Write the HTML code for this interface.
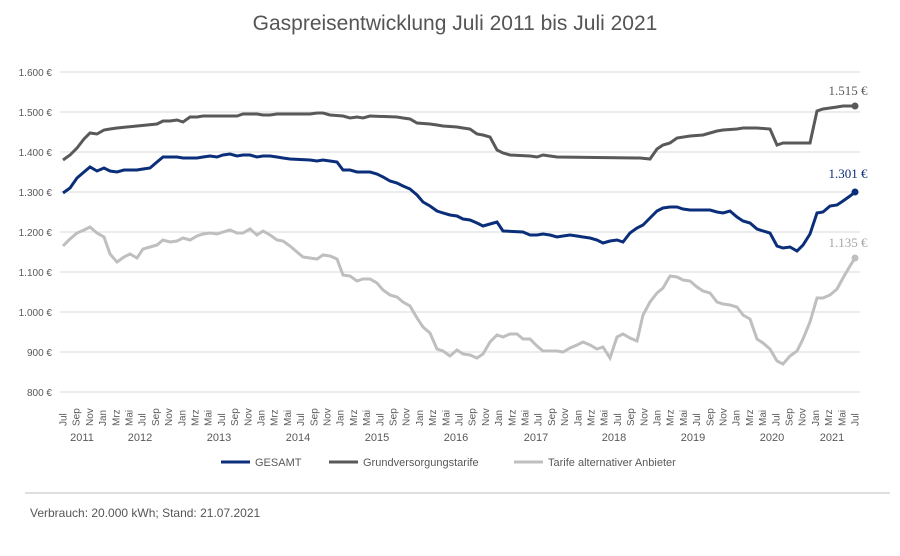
<!DOCTYPE html>
<html><head><meta charset="utf-8"><style>
body{margin:0;background:#fff;font-family:"Liberation Sans",sans-serif}
</style></head><body>
<svg width="900" height="551" xmlns="http://www.w3.org/2000/svg" font-family="Liberation Sans, sans-serif">
<text x="455" y="30" font-size="21" fill="#555" text-anchor="middle">Gaspreisentwicklung Juli 2011 bis Juli 2021</text>
<g stroke="#d9d9d9" stroke-width="1">
<line x1="60" x2="860" y1="72" y2="72"/><line x1="60" x2="860" y1="112" y2="112"/><line x1="60" x2="860" y1="152" y2="152"/><line x1="60" x2="860" y1="192" y2="192"/><line x1="60" x2="860" y1="232" y2="232"/><line x1="60" x2="860" y1="272" y2="272"/><line x1="60" x2="860" y1="312" y2="312"/><line x1="60" x2="860" y1="352" y2="352"/><line x1="60" x2="860" y1="392" y2="392"/>
</g>
<g font-size="10" fill="#595959" text-anchor="end">
<text x="52" y="76">1.600 €</text><text x="52" y="116">1.500 €</text><text x="52" y="156">1.400 €</text><text x="52" y="196">1.300 €</text><text x="52" y="236">1.200 €</text><text x="52" y="276">1.100 €</text><text x="52" y="316">1.000 €</text><text x="52" y="356">900 €</text><text x="52" y="396">800 €</text>
</g>
<g font-size="10" fill="#595959">
<text x="66.5" y="426" transform="rotate(-90,66.5,426)">Jul</text>
<text x="79.7" y="426" transform="rotate(-90,79.7,426)">Sep</text>
<text x="92.9" y="426" transform="rotate(-90,92.9,426)">Nov</text>
<text x="106.1" y="426" transform="rotate(-90,106.1,426)">Jan</text>
<text x="119.3" y="426" transform="rotate(-90,119.3,426)">Mrz</text>
<text x="132.5" y="426" transform="rotate(-90,132.5,426)">Mai</text>
<text x="145.7" y="426" transform="rotate(-90,145.7,426)">Jul</text>
<text x="158.9" y="426" transform="rotate(-90,158.9,426)">Sep</text>
<text x="172.1" y="426" transform="rotate(-90,172.1,426)">Nov</text>
<text x="185.3" y="426" transform="rotate(-90,185.3,426)">Jan</text>
<text x="198.5" y="426" transform="rotate(-90,198.5,426)">Mrz</text>
<text x="211.7" y="426" transform="rotate(-90,211.7,426)">Mai</text>
<text x="224.9" y="426" transform="rotate(-90,224.9,426)">Jul</text>
<text x="238.1" y="426" transform="rotate(-90,238.1,426)">Sep</text>
<text x="251.3" y="426" transform="rotate(-90,251.3,426)">Nov</text>
<text x="264.5" y="426" transform="rotate(-90,264.5,426)">Jan</text>
<text x="277.7" y="426" transform="rotate(-90,277.7,426)">Mrz</text>
<text x="290.9" y="426" transform="rotate(-90,290.9,426)">Mai</text>
<text x="304.1" y="426" transform="rotate(-90,304.1,426)">Jul</text>
<text x="317.3" y="426" transform="rotate(-90,317.3,426)">Sep</text>
<text x="330.5" y="426" transform="rotate(-90,330.5,426)">Nov</text>
<text x="343.7" y="426" transform="rotate(-90,343.7,426)">Jan</text>
<text x="356.9" y="426" transform="rotate(-90,356.9,426)">Mrz</text>
<text x="370.1" y="426" transform="rotate(-90,370.1,426)">Mai</text>
<text x="383.3" y="426" transform="rotate(-90,383.3,426)">Jul</text>
<text x="396.5" y="426" transform="rotate(-90,396.5,426)">Sep</text>
<text x="409.7" y="426" transform="rotate(-90,409.7,426)">Nov</text>
<text x="422.9" y="426" transform="rotate(-90,422.9,426)">Jan</text>
<text x="436.1" y="426" transform="rotate(-90,436.1,426)">Mrz</text>
<text x="449.3" y="426" transform="rotate(-90,449.3,426)">Mai</text>
<text x="462.5" y="426" transform="rotate(-90,462.5,426)">Jul</text>
<text x="475.7" y="426" transform="rotate(-90,475.7,426)">Sep</text>
<text x="488.9" y="426" transform="rotate(-90,488.9,426)">Nov</text>
<text x="502.1" y="426" transform="rotate(-90,502.1,426)">Jan</text>
<text x="515.3" y="426" transform="rotate(-90,515.3,426)">Mrz</text>
<text x="528.5" y="426" transform="rotate(-90,528.5,426)">Mai</text>
<text x="541.7" y="426" transform="rotate(-90,541.7,426)">Jul</text>
<text x="554.9" y="426" transform="rotate(-90,554.9,426)">Sep</text>
<text x="568.1" y="426" transform="rotate(-90,568.1,426)">Nov</text>
<text x="581.3" y="426" transform="rotate(-90,581.3,426)">Jan</text>
<text x="594.5" y="426" transform="rotate(-90,594.5,426)">Mrz</text>
<text x="607.7" y="426" transform="rotate(-90,607.7,426)">Mai</text>
<text x="620.9" y="426" transform="rotate(-90,620.9,426)">Jul</text>
<text x="634.1" y="426" transform="rotate(-90,634.1,426)">Sep</text>
<text x="647.3" y="426" transform="rotate(-90,647.3,426)">Nov</text>
<text x="660.5" y="426" transform="rotate(-90,660.5,426)">Jan</text>
<text x="673.7" y="426" transform="rotate(-90,673.7,426)">Mrz</text>
<text x="686.9" y="426" transform="rotate(-90,686.9,426)">Mai</text>
<text x="700.1" y="426" transform="rotate(-90,700.1,426)">Jul</text>
<text x="713.3" y="426" transform="rotate(-90,713.3,426)">Sep</text>
<text x="726.5" y="426" transform="rotate(-90,726.5,426)">Nov</text>
<text x="739.7" y="426" transform="rotate(-90,739.7,426)">Jan</text>
<text x="752.9" y="426" transform="rotate(-90,752.9,426)">Mrz</text>
<text x="766.1" y="426" transform="rotate(-90,766.1,426)">Mai</text>
<text x="779.3" y="426" transform="rotate(-90,779.3,426)">Jul</text>
<text x="792.5" y="426" transform="rotate(-90,792.5,426)">Sep</text>
<text x="805.7" y="426" transform="rotate(-90,805.7,426)">Nov</text>
<text x="818.9" y="426" transform="rotate(-90,818.9,426)">Jan</text>
<text x="832.1" y="426" transform="rotate(-90,832.1,426)">Mrz</text>
<text x="845.3" y="426" transform="rotate(-90,845.3,426)">Mai</text>
<text x="858.5" y="426" transform="rotate(-90,858.5,426)">Jul</text>
</g>
<g font-size="11" fill="#595959" text-anchor="middle">
<text x="82" y="441">2011</text><text x="140" y="441">2012</text><text x="219" y="441">2013</text><text x="298" y="441">2014</text><text x="377" y="441">2015</text><text x="456" y="441">2016</text><text x="536" y="441">2017</text><text x="614" y="441">2018</text><text x="693" y="441">2019</text><text x="772" y="441">2020</text><text x="832" y="441">2021</text>
</g>
<polyline fill="none" stroke="#bfbfbf" stroke-width="3" points="63,246 70,239 77,233 84,230 90,227 97,233 104,237 110,254 117,262 124,257 130,254 137,258 143,249 150,247 157,245 163,240 170,242 177,241 183,238 190,240 197,236 203,234 210,233 217,234 223,232 230,230 237,233 243,233 250,229 257,235 263,231 270,235 277,240 283,241 290,246 297,252 303,257 310,258 317,259 323,255 330,256 337,259 343,275 350,276 357,281 363,279 370,279 377,283 383,290 390,295 397,297 403,302 410,306 417,318 423,327 430,333 437,349 443,351 450,356 457,350 463,354 470,355 477,358 483,354 490,342 497,335 503,337 510,334 517,334 523,339 530,339 537,346 543,351 550,351 557,351 563,352 570,348 577,345 583,342 590,345 597,349 603,347 610,358 617,337 623,334 630,338 637,341 643,315 650,302 657,293 663,288 670,276 677,277 683,280 690,281 697,287 703,291 710,293 717,302 723,304 730,305 737,307 743,315 750,319 757,339 763,343 770,349 777,361 783,364 790,356 797,351 803,339 810,322 817,298 823,298 830,295 837,289 843,278 850,266 855,258"/>
<polyline fill="none" stroke="#595959" stroke-width="3" points="63,160 70,155 77,148 84,139 90,133 97,134 104,130 110,129 117,128 157,124 163,121 170,121 177,120 183,122 190,117 197,117 203,116 237,116 243,114 257,114 263,115 270,115 277,114 310,114 317,113 323,113 330,115 343,116 350,118 357,117 363,118 370,116 397,117 403,118 410,119 417,123 430,124 437,125 443,126 457,127 463,128 470,129 477,134 483,135 490,137 497,150 503,153 510,155 530,156 537,157 543,155 550,156 557,157 640,158 650,159 657,149 663,145 670,143 677,138 690,136 703,135 710,133 717,131 723,130 737,129 743,128 757,128 770,129 777,145 783,143 810,143 817,111 823,109 830,108 837,107 843,106 855,106"/>
<polyline fill="none" stroke="#0b2e7a" stroke-width="3" points="63,193 70,188 77,178 84,172 90,167 97,171 104,168 110,171 117,172 124,170 137,170 143,169 150,168 157,162 163,157 177,157 183,158 197,158 203,157 210,156 217,157 223,155 230,154 237,156 243,155 250,155 257,157 263,156 270,156 277,157 283,158 290,159 310,160 317,161 323,160 330,161 337,162 343,170 350,170 357,172 370,172 377,174 383,177 390,181 397,183 403,186 410,189 417,195 423,202 430,206 437,211 443,213 450,215 457,216 463,219 470,220 477,223 483,226 490,224 497,222 503,231 523,232 530,235 537,235 543,234 550,235 557,237 563,236 570,235 577,236 583,237 590,238 597,240 603,243 610,241 617,240 623,242 630,233 637,228 643,225 650,218 657,211 663,208 670,207 677,207 683,209 690,210 710,210 717,212 723,213 730,211 737,217 743,221 750,223 757,229 763,231 770,233 777,246 783,248 790,247 797,251 803,245 810,234 817,213 823,212 830,206 837,205 843,201 850,196 855,192"/>
<circle cx="855" cy="106" r="3.5" fill="#595959"/><circle cx="855" cy="192" r="3.5" fill="#0b2e7a"/><circle cx="855" cy="258" r="3.5" fill="#bfbfbf"/>
<text x="848" y="95" font-size="13" fill="#595959" text-anchor="middle" font-family="Liberation Serif, serif">1.515 €</text>
<text x="848" y="178" font-size="13" fill="#0b2e7a" text-anchor="middle" font-family="Liberation Serif, serif">1.301 €</text>
<text x="848" y="247" font-size="13" fill="#a6a6a6" text-anchor="middle" font-family="Liberation Serif, serif">1.135 €</text>
<g font-size="11" fill="#595959">
<line x1="221" x2="250" y1="462" y2="462" stroke="#0b2e7a" stroke-width="3"/><text x="255" y="466">GESAMT</text>
<line x1="329" x2="358" y1="462" y2="462" stroke="#595959" stroke-width="3"/><text x="363" y="466">Grundversorgungstarife</text>
<line x1="514" x2="543" y1="462" y2="462" stroke="#bfbfbf" stroke-width="3"/><text x="548" y="466">Tarife alternativer Anbieter</text>
</g>
<line x1="25" x2="890" y1="493" y2="493" stroke="#bfbfbf"/>
<text x="30" y="517" font-size="12" fill="#555">Verbrauch: 20.000 kWh; Stand: 21.07.2021</text>
</svg>
</body></html>
